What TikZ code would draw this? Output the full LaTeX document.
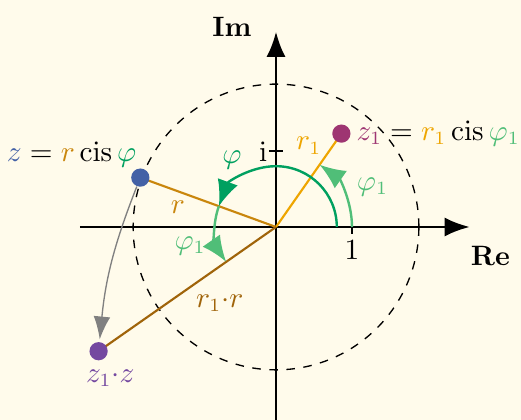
\documentclass[tikz,border=0pt]{standalone}
\usepackage{amsmath}
\usetikzlibrary{arrows.meta}
\definecolor{bg}{RGB}{255,251,235}
\definecolor{zblue}{RGB}{67,97,166}
\definecolor{zonec}{RGB}{158,53,114}
\definecolor{zzc}{RGB}{116,72,160}
\definecolor{rc}{RGB}{201,134,12}
\definecolor{ronec}{RGB}{238,165,0}
\definecolor{rrc}{RGB}{160,100,10}
\definecolor{phic}{RGB}{0,160,96}
\definecolor{phionec}{RGB}{80,190,120}
\tikzset{
  axis/.style={line width=1pt,-{Latex[length=3.3mm,width=2.5mm]}},
  dotz/.style={circle,inner sep=0pt,minimum size=2.4mm},
  arcarrow/.style={line width=0.9pt,-{Latex[length=3.4mm,width=2.8mm]}},
  seg/.style={line width=0.8pt},
  lbl/.style={inner sep=1pt,font=\fontsize{10.5}{12}\selectfont}
}
\begin{document}
\begin{tikzpicture}
\fill[bg] (-3.632,-2.539) rectangle (3.224,2.987);
\useasboundingbox (-3.632,-2.539) rectangle (3.224,2.987);
\coordinate (O) at (0,0);
\coordinate (xs) at (-2.58,0);
\coordinate (xe) at (2.55,0);
\coordinate (ys) at (0,-2.7);
\coordinate (ye) at (0,2.57);
% circle
\draw[line width=0.5pt,dash pattern=on 3.2pt off 3.2pt] (O) circle (1.88);
% axes
\draw[axis] (xs) -- (xe);
\draw[axis] (ys) -- (ye);
\draw[line width=1pt] (1,-0.09) -- (1,0.09);
\draw[line width=1pt] (-0.09,1) -- (0.09,1);
\node[lbl] (one) at (1.0,-0.31) {$1$};
\node[lbl] (ii) at (-0.17,0.99) {$\mathrm{i}$};
\node[lbl] (Im) at (-0.58,2.63) {\textbf{Im}};
\node[lbl] (Re) at (2.82,-0.38) {\textbf{Re}};
% points
\coordinate (z) at (160:1.9);
\coordinate (z1) at (55:1.5);
\coordinate (zz) at (215:2.85);
% segments
\draw[seg,color=rc] (O) -- (z);
\draw[seg,color=ronec] (O) -- (z1);
\draw[seg,color=rrc] (O) -- (zz);
% arcs
\draw[arcarrow,color=phic] (0.8,0) arc (0:160:0.8);
\draw[arcarrow,color=phionec] (1.0,0) arc (0:55:1.0);
\draw[arcarrow,color=phionec] (160:0.8) arc (160:215:0.8);
% dots
\node[dotz,fill=zblue] (zd) at (z) {};
\node[dotz,fill=zonec] (z1d) at (z1) {};
\node[dotz,fill=zzc] (zzd) at (zz) {};
% gray arrow
\draw[gray,line width=0.5pt,-{Latex[length=3mm,width=2.2mm]},shorten >=0.03cm] (zd) to[bend right=8] (zzd);
% labels
\node[lbl] (phil) at (-0.58,0.88) {$\color{phic}\varphi$};
\node[lbl] (phi1r) at (1.27,0.53) {$\color{phionec}\varphi_1$};
\node[lbl] (phi1l) at (-1.13,-0.25) {$\color{phionec}\varphi_1$};
\node[lbl] (rl) at (-1.29,0.26) {$\color{rc}r$};
\node[lbl] (r1l) at (0.43,1.07) {$\color{ronec}r_1$};
\node[lbl] (rrl) at (-0.74,-1.0) {$\color{rrc}r_1{\cdot}r$};
\node[lbl] (zzl) at (-2.18,-1.99) {$\color{zzc}z_1{\cdot}z$};
\node[lbl] (zl) at (-2.69,0.95) {${\color{zblue}z}={\color{rc}r}\operatorname{cis}{\color{phic}\varphi}$};
\node[lbl,anchor=west] (z1l) at ([xshift=0.03cm]z1d.east) {${\color{zonec}z_1}={\color{ronec}r_1}\operatorname{cis}{\color{phionec}\varphi_1}$};
\end{tikzpicture}
\end{document}
